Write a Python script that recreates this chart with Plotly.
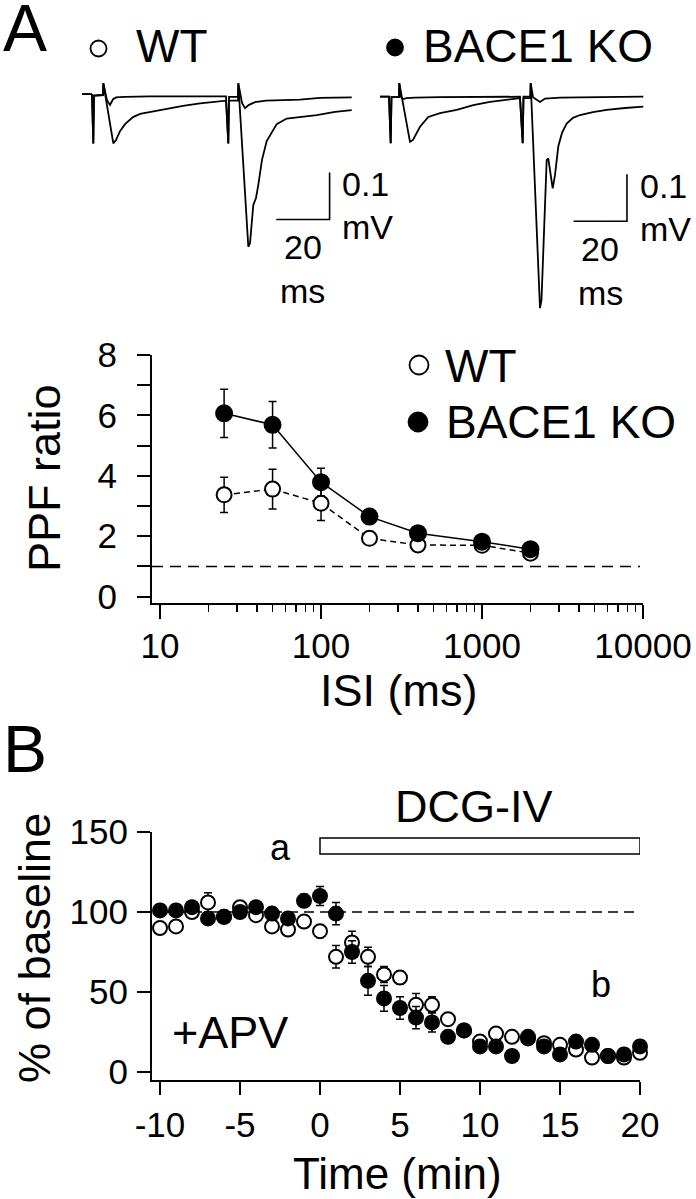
import plotly.graph_objects as go

W, H = 696, 1199
FONT = "Liberation Sans"

# ---------------- data ----------------
# Example sweeps (time in ms from 1st stimulus, voltage in mV)
wt_big_t = [-4.24, -0.86, -0.49, 0.0, 0.26, 3.64, 3.75, 7.5, 8.51, 10.01, 11.89, 14.89, 17.51, 21.26,
            26.88, 33.63, 40.01, 49.76, 50.62, 50.88, 54.26, 54.37, 58.12, 58.76, 59.99, 61.0, 61.87,
            63.25, 65.02, 68.77, 72.52, 77.5, 83.77, 90.63, 96.89]
wt_big_v = [0.002, 0.002, 0.0, -0.103, -0.001, 0.0, 0.025, -0.103, -0.096, -0.077, -0.062, -0.047,
            -0.040, -0.036, -0.029, -0.023, -0.018, -0.012, -0.103, -0.012, -0.012, 0.025, -0.323,
            -0.315, -0.234, -0.219, -0.191, -0.138, -0.098, -0.062, -0.050, -0.047, -0.043, -0.036, -0.032]
wt_small_t = [-4.24, -0.86, -0.49, 0.0, 0.26, 3.64, 3.75, 5.14, 6.26, 7.39, 8.51, 11.89, 21.26, 49.76,
              50.62, 50.88, 54.26, 54.37, 55.76, 56.88, 58.38, 60.63, 64.76, 71.88, 77.5, 85.0, 96.89]
wt_small_v = [0.002, 0.002, 0.0, -0.103, -0.001, 0.0, 0.025, -0.011, -0.021, -0.009, -0.005, -0.004,
              -0.003, -0.003, -0.103, -0.004, -0.004, 0.025, -0.017, -0.028, -0.021, -0.015, -0.012,
              -0.011, -0.010, -0.006, -0.005]
ko_big_t = [-4.01, -0.64, 0.0, 0.3, 3.11, 3.22, 7.24, 8.36, 10.99, 14.1, 18.49, 24.75, 30.97, 37.23,
            48.48, 49.49, 49.79, 52.38, 52.49, 55.98, 56.54, 58.49, 59.09, 59.73, 60.74, 61.6, 62.84,
            64.23, 65.99, 68.35, 70.98, 75.85, 80.99, 87.85, 94.71]
ko_big_v = [0.0, 0.0, -0.099, -0.001, -0.001, 0.029, -0.096, -0.092, -0.064, -0.043, -0.035, -0.028,
            -0.018, -0.011, -0.003, -0.099, -0.003, -0.003, 0.029, -0.450, -0.433, -0.135, -0.131,
            -0.156, -0.195, -0.167, -0.106, -0.077, -0.057, -0.045, -0.039, -0.033, -0.028, -0.024, -0.021]
ko_small_t = [-4.01, -0.64, 0.0, 0.3, 3.11, 3.22, 3.86, 4.61, 6.0, 9.11, 18.49, 48.48, 49.49, 49.79,
              52.38, 52.49, 53.36, 54.74, 55.98, 57.86, 63.48, 78.48, 94.71]
ko_small_v = [0.0, 0.0, -0.099, -0.001, -0.001, 0.029, -0.001, -0.005, -0.003, -0.002, -0.001, 0.0,
              -0.099, 0.0, 0.0, 0.029, -0.001, -0.007, -0.011, -0.004, -0.002, -0.001, 0.0]
scale_ms = 20
scale_mv = 0.1

# Paired-pulse facilitation
isi_ms = [25, 50, 100, 200, 400, 1000, 2000]
ppf_wt = [3.37, 3.56, 3.09, 1.93, 1.71, 1.70, 1.44]
ppf_wt_err = [0.58, 0.66, 0.57, 0.20, 0.12, 0.10, 0.10]
ppf_ko = [6.07, 5.69, 3.79, 2.65, 2.10, 1.82, 1.57]
ppf_ko_err = [0.80, 0.77, 0.46, 0.15, 0.12, 0.10, 0.10]
isi_ticks = [10, 100, 1000, 10000]
ppf_ticks = [0, 2, 4, 6, 8]

# DCG-IV time course (% of baseline)
time_min = [-10, -9, -8, -7, -6, -5, -4, -3, -2, -1, 0, 1, 2, 3, 4, 5, 6, 7, 8, 9, 10,
            11, 12, 13, 14, 15, 16, 17, 18, 19, 20]
dcg_wt = [90, 91, 100, 106, 97, 103, 98, 91, 89, 94, 88, 72, 81, 72, 61, 59, 42, 42, 33, 26, 19,
          24, 22, 21, 18, 17, 14, 9, 10, 9, 12]
dcg_wt_err = [3, 3, 3, 6, 3, 3, 3, 3, 3, 3, 4, 7, 7, 6, 5, 4, 7, 5, 4, 3, 3,
              3, 3, 3, 3, 3, 3, 3, 3, 3, 3]
dcg_ko = [101, 101, 103, 96, 97, 100, 103, 99, 96, 107, 110, 99, 75, 57, 46, 40, 34, 31, 22, 26, 16,
          16, 10, 22, 16, 11, 19, 17, 10, 11, 16]
dcg_ko_err = [3, 3, 3, 3, 3, 3, 3, 3, 3, 4, 6, 7, 7, 9, 8, 7, 7, 6, 4, 3, 3,
              3, 3, 3, 3, 3, 3, 3, 3, 3, 3]
time_ticks = [-10, -5, 0, 5, 10, 15, 20]
time_ticktext = ["-10", "-5", "0", "5", "10", "15", "20"]
pct_ticks = [0, 50, 100, 150]
drug_start, drug_end = 0, 20
baseline_pct = 100
ppf_unity = 1


# ---------------- helpers ----------------
def px(x):
    return x / W


def py(y):
    return 1 - y / H


fig = go.Figure()
LW = 1.8

# traces panel
for t, v, ax in [(wt_big_t, wt_big_v, 1), (wt_small_t, wt_small_v, 1),
                 (ko_big_t, ko_big_v, 2), (ko_small_t, ko_small_v, 2)]:
    fig.add_trace(go.Scatter(x=t, y=v, mode="lines", line=dict(color="black", width=LW),
                             xaxis="x" if ax == 1 else "x2", yaxis="y" if ax == 1 else "y2",
                             hoverinfo="skip"))

corner_t, corner_v = 88.6, -0.265
for xa, ya in [("x", "y"), ("x2", "y2")]:
    fig.add_trace(go.Scatter(x=[corner_t - scale_ms, corner_t, corner_t],
                             y=[corner_v, corner_v, corner_v + scale_mv],
                             mode="lines", line=dict(color="black", width=1.6),
                             xaxis=xa, yaxis=ya, hoverinfo="skip"))

# PPF panel
fig.add_trace(go.Scatter(x=isi_ms, y=ppf_wt, mode="lines+markers",
                         line=dict(color="black", width=1.5, dash="6px,4px"),
                         marker=dict(symbol="circle", size=15, color="white",
                                     line=dict(color="black", width=2)),
                         error_y=dict(type="data", array=ppf_wt_err, color="black", thickness=1.5, width=4),
                         xaxis="x3", yaxis="y3", cliponaxis=False))
fig.add_trace(go.Scatter(x=isi_ms, y=ppf_ko, mode="lines+markers",
                         line=dict(color="black", width=1.5),
                         marker=dict(symbol="circle", size=16, color="black",
                                     line=dict(color="black", width=2)),
                         error_y=dict(type="data", array=ppf_ko_err, color="black", thickness=1.5, width=4),
                         xaxis="x3", yaxis="y3", cliponaxis=False))

# DCG-IV panel
fig.add_trace(go.Scatter(x=time_min, y=dcg_wt, mode="markers",
                         marker=dict(symbol="circle", size=14, color="white",
                                     line=dict(color="black", width=2)),
                         error_y=dict(type="data", array=dcg_wt_err, color="black", thickness=1.5, width=4),
                         xaxis="x4", yaxis="y4", cliponaxis=False))
fig.add_trace(go.Scatter(x=time_min, y=dcg_ko, mode="markers",
                         marker=dict(symbol="circle", size=14, color="black",
                                     line=dict(color="black", width=2)),
                         error_y=dict(type="data", array=dcg_ko_err, color="black", thickness=1.5, width=4),
                         xaxis="x4", yaxis="y4", cliponaxis=False))

axis_common = dict(showline=True, linecolor="black", linewidth=2, ticks="outside", tickwidth=2,
                   tickcolor="black", showgrid=False, zeroline=False, automargin=False,
                   tickfont=dict(family=FONT, size=35, color="black"))
hidden = dict(visible=False, automargin=False, fixedrange=True)

fig.update_layout(
    template="none",
    width=W, height=H, margin=dict(l=0, r=0, t=0, b=0, pad=0), autosize=False,
    paper_bgcolor="white", plot_bgcolor="rgba(0,0,0,0)", showlegend=False,
    font=dict(family=FONT, color="black"),
    xaxis=dict(domain=[px(80), px(356)], range=[-4.99, 98.5], anchor="y", **hidden),
    yaxis=dict(domain=[py(320), py(75)], range=[-0.4787, 0.0426], anchor="x", **hidden),
    xaxis2=dict(domain=[px(376), px(652)], range=[-5.51, 97.98], anchor="y2", **hidden),
    yaxis2=dict(domain=[py(320), py(75)], range=[-0.4751, 0.0462], anchor="x2", **hidden),
    xaxis3=dict(domain=[px(152), px(643)], type="log", range=[0.95, 4.0], anchor="y3",
                tickvals=isi_ticks, ticktext=[str(v) for v in isi_ticks],
                ticklen=14, ticklabelstandoff=-3,
                minor=dict(ticks="outside", ticklen=7, tickwidth=1.5, tickcolor="black",
                           tickvals=[20, 30, 40, 50, 60, 70, 80, 90, 200, 300, 400, 500, 600, 700, 800,
                                     900, 2000, 3000, 4000, 5000, 6000, 7000, 8000, 9000]),
                **axis_common),
    yaxis3=dict(domain=[py(603.3), py(355)], range=[-0.22, 8], anchor="x3",
                tickvals=ppf_ticks, ticklen=13, ticklabelstandoff=13,
                minor=dict(ticks="outside", ticklen=13, tickwidth=2, tickcolor="black",
                           tickvals=[1, 3, 5, 7]),
                **axis_common),
    xaxis4=dict(domain=[px(152), px(640)], range=[-10.5, 20], anchor="y4",
                tickvals=time_ticks, ticktext=time_ticktext, ticklen=13, ticklabelstandoff=0,
                **axis_common),
    yaxis4=dict(domain=[py(1080), py(832)], range=[-5, 150], anchor="x4",
                tickvals=pct_ticks, ticklen=13, ticklabelstandoff=2,
                **axis_common),
)

shapes = []
# reference dashed lines
shapes.append(dict(type="line", xref="x3 domain", yref="y3", x0=0, x1=0.994, y0=ppf_unity, y1=ppf_unity,
                   line=dict(color="black", width=1.5, dash="11px,7px"), layer="below"))
shapes.append(dict(type="line", xref="x4", yref="y4", x0=-10, x1=20, y0=baseline_pct, y1=baseline_pct,
                   line=dict(color="black", width=1.5, dash="10px,6px"), layer="below"))
# drug bar
shapes.append(dict(type="rect", xref="x4", yref="y4", x0=drug_start, x1=drug_end, y0=136.3, y1=146.3,
                   line=dict(color="black", width=1.5), fillcolor="white"))


def circ(cx, cy, d, filled):
    r = d / 2
    return dict(type="circle", xref="paper", yref="paper", xsizemode="pixel", ysizemode="pixel",
                xanchor=px(cx), yanchor=py(cy), x0=-r, x1=r, y0=-r, y1=r,
                line=dict(color="black", width=1.8), fillcolor="black" if filled else "white")


shapes += [circ(98.5, 48.5, 16, False), circ(395, 47.5, 16, True),
           circ(419, 365, 19, False), circ(418, 422, 19, True)]
fig.update_layout(shapes=shapes)


def txt(s, x, y, size, xanchor="center", angle=0):
    return dict(text=s, x=px(x), y=py(y), xref="paper", yref="paper", showarrow=False,
                xanchor=xanchor, yanchor="middle", textangle=angle,
                font=dict(family=FONT, size=size, color="black"))


ann = [
    txt("A", 1, 28, 66, "left"),
    txt("B", 1, 749, 66, "left"),
    txt("WT", 134, 46, 46, "left"),
    txt("BACE1 KO", 421, 46, 46, "left"),
    txt("WT", 443, 366, 46, "left"),
    txt("BACE1 KO", 444, 422, 46, "left"),
    txt("PPF ratio", 45, 478, 45, "center", -90),
    txt("ISI (ms)", 398, 690, 45),
    txt("% of baseline", 34, 948, 45, "center", -90),
    txt("Time (min)", 397, 1173, 44),
    txt("DCG-IV", 473.5, 806, 45),
    txt("a", 280, 847, 36),
    txt("b", 601, 985, 36),
    txt("+APV", 230, 1032, 45),
]
# scale bar labels (in trace axes coordinates)
for xa, ya in [("x", "y"), ("x2", "y2")]:
    for s, dx, dy, xanc in [("20", -10, -0.058, "center"), ("ms", -10, -0.152, "center"),
                            ("0.1", 4, 0.075, "left"), ("mV", 4, -0.016, "left")]:
        ann.append(dict(text=s, x=corner_t + dx, y=corner_v + dy, xref=xa, yref=ya, showarrow=False,
                        xanchor=xanc, yanchor="middle",
                        font=dict(family=FONT, size=34, color="black")))
fig.update_layout(annotations=ann)

fig.write_html("out.html", config={"displayModeBar": False, "staticPlot": True},
               post_script="document.body.style.margin='0px';document.body.style.padding='0px';")
